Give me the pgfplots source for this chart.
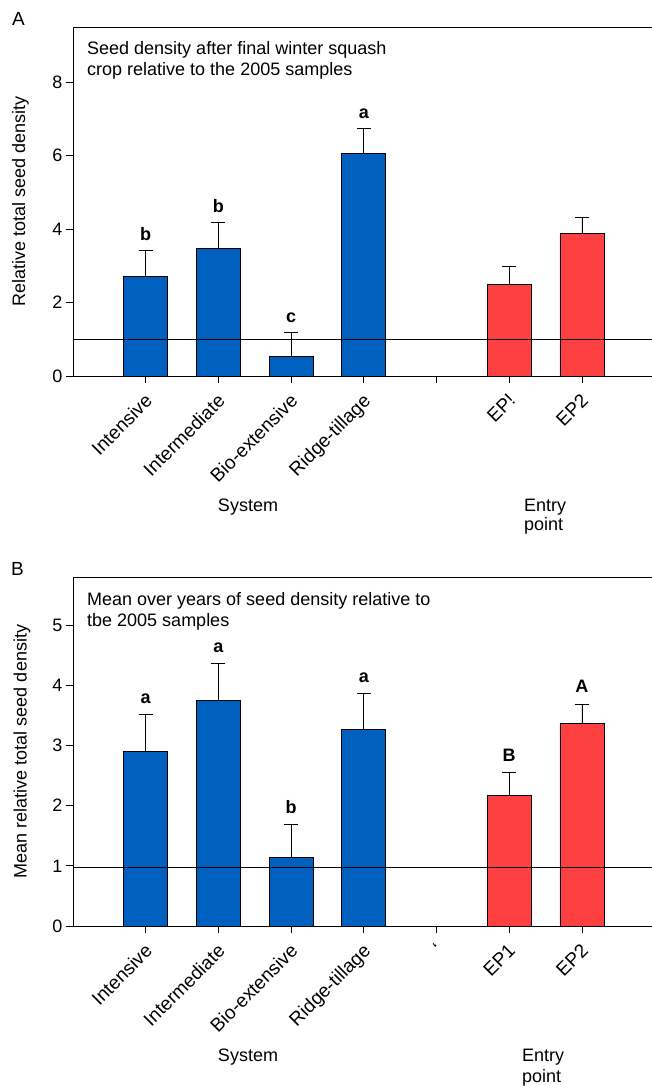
\documentclass[border=0pt]{standalone}
\usepackage{fontspec}
\setmainfont{Liberation Sans}
\usepackage{pgfplots}
\pgfplotsset{compat=1.18}
\definecolor{barblue}{RGB}{0,96,192}
\definecolor{barred}{RGB}{255,64,64}
\newcommand{\fs}{\fontsize{18}{21}\selectfont}
\pgfplotsset{
  panel/.style={
    scale only axis, width=581.6pt, height=349pt,
    xmin=-1, xmax=7, ymin=0,
    axis line style={line width=0.8pt, black},
    xtick={0,1,2,3,4,5,6},
    tick align=outside, major tick length=7pt,
    tick style={line width=0.8pt, black},
    xtick pos=left, ytick pos=left,
    tick label style={font=\fs},
    /pgf/number format/assume math mode=true,
    xticklabel style={font=\fontsize{19}{22}\selectfont, xshift=-2pt, yshift=-8pt, rotate=45, anchor=north east, inner sep=1pt},
    clip=false,
  },
  sbar/.style={ybar, bar width=44pt, bar shift=0pt, draw=black, line width=0.8pt,
    error bars/y dir=plus, error bars/y explicit,
    error bars/error bar style={line width=0.8pt, black},
    error bars/error mark options={line width=0.8pt, mark size=7pt, black, rotate=90}},
}
\tikzset{lettr/.style={font=\fs\bfseries, anchor=base}}
\begin{document}
\begin{tikzpicture}
\path[use as bounding box] (0,0) rectangle (651pt,-1086pt);
% Panel A
\begin{axis}[panel, at={(73pt,-376pt)}, anchor=south west, ymax=9.5, ytick={0,2,4,6,8},
  xticklabels={Intensive,Intermediate,Bio-extensive,Ridge-tillage,{},EP!,EP2}]
\addplot[sbar, fill=barblue] table[x=x, y=y, y error=e] {
x y e
0 2.72 0.69
1 3.47 0.70
2 0.54 0.64
3 6.05 0.68
};
\addplot[sbar, fill=barred] table[x=x, y=y, y error=e] {
x y e
5 2.50 0.49
6 3.87 0.46
};
\addplot[black, line width=0.8pt] coordinates {(-1,1) (7,1)};
\node[lettr, yshift=10pt] at (axis cs:0,3.41) {b};
\node[lettr, yshift=10pt] at (axis cs:1,4.17) {b};
\node[lettr, yshift=10pt] at (axis cs:2,1.18) {c};
\node[lettr, yshift=10pt] at (axis cs:3,6.73) {a};
\end{axis}
% Panel B
\begin{axis}[panel, at={(73pt,-926pt)}, anchor=south west, ymax=5.8, ytick={0,1,2,3,4,5},
  xticklabels={Intensive,Intermediate,Bio-extensive,Ridge-tillage,`,EP1,EP2}]
\addplot[sbar, fill=barblue] table[x=x, y=y, y error=e] {
x y e
0 2.90 0.62
1 3.75 0.62
2 1.14 0.55
3 3.27 0.59
};
\addplot[sbar, fill=barred] table[x=x, y=y, y error=e] {
x y e
5 2.17 0.38
6 3.36 0.33
};
\addplot[black, line width=0.8pt] coordinates {(-1,0.98) (7,0.98)};
\node[lettr, yshift=11pt] at (axis cs:0,3.52) {a};
\node[lettr, yshift=11pt] at (axis cs:1,4.37) {a};
\node[lettr, yshift=11pt] at (axis cs:2,1.69) {b};
\node[lettr, yshift=11pt] at (axis cs:3,3.86) {a};
\node[lettr, yshift=11pt] at (axis cs:5,2.55) {B};
\node[lettr, yshift=11pt] at (axis cs:6,3.69) {A};
\end{axis}
% texts
\node[font=\fontsize{19}{22}\selectfont, anchor=base west, inner sep=0pt] at (12pt,-26pt) {A};
\node[font=\fontsize{19}{22}\selectfont, anchor=base west, inner sep=0pt] at (11pt,-575pt) {B};
\node[font=\fs, anchor=base west, inner sep=0pt] at (87pt,-55pt) {Seed density after final winter squash};
\node[font=\fs, anchor=base west, inner sep=0pt] at (87pt,-76pt) {crop relative to the 2005 samples};
\node[font=\fs, anchor=base west, inner sep=0pt] at (87pt,-605pt) {Mean over years of seed density relative to};
\node[font=\fs, anchor=base west, inner sep=0pt] at (87pt,-626pt) {tbe 2005 samples};
\node[font=\fs, rotate=90, inner sep=0pt] at (20.5pt,-201.5pt) {Relative total seed density};
\node[font=\fs, rotate=90, inner sep=0pt] at (22pt,-751.5pt) {Mean relative total seed density};
\node[font=\fs, anchor=base, inner sep=0pt] at (248pt,-511pt) {System};
\node[font=\fs, anchor=base west, inner sep=0pt] at (524pt,-511pt) {Entry};
\node[font=\fs, anchor=base west, inner sep=0pt] at (524pt,-530pt) {point};
\node[font=\fs, anchor=base, inner sep=0pt] at (248pt,-1061pt) {System};
\node[font=\fs, anchor=base west, inner sep=0pt] at (522pt,-1061pt) {Entry};
\node[font=\fs, anchor=base west, inner sep=0pt] at (522pt,-1082pt) {point};
\end{tikzpicture}
\end{document}
